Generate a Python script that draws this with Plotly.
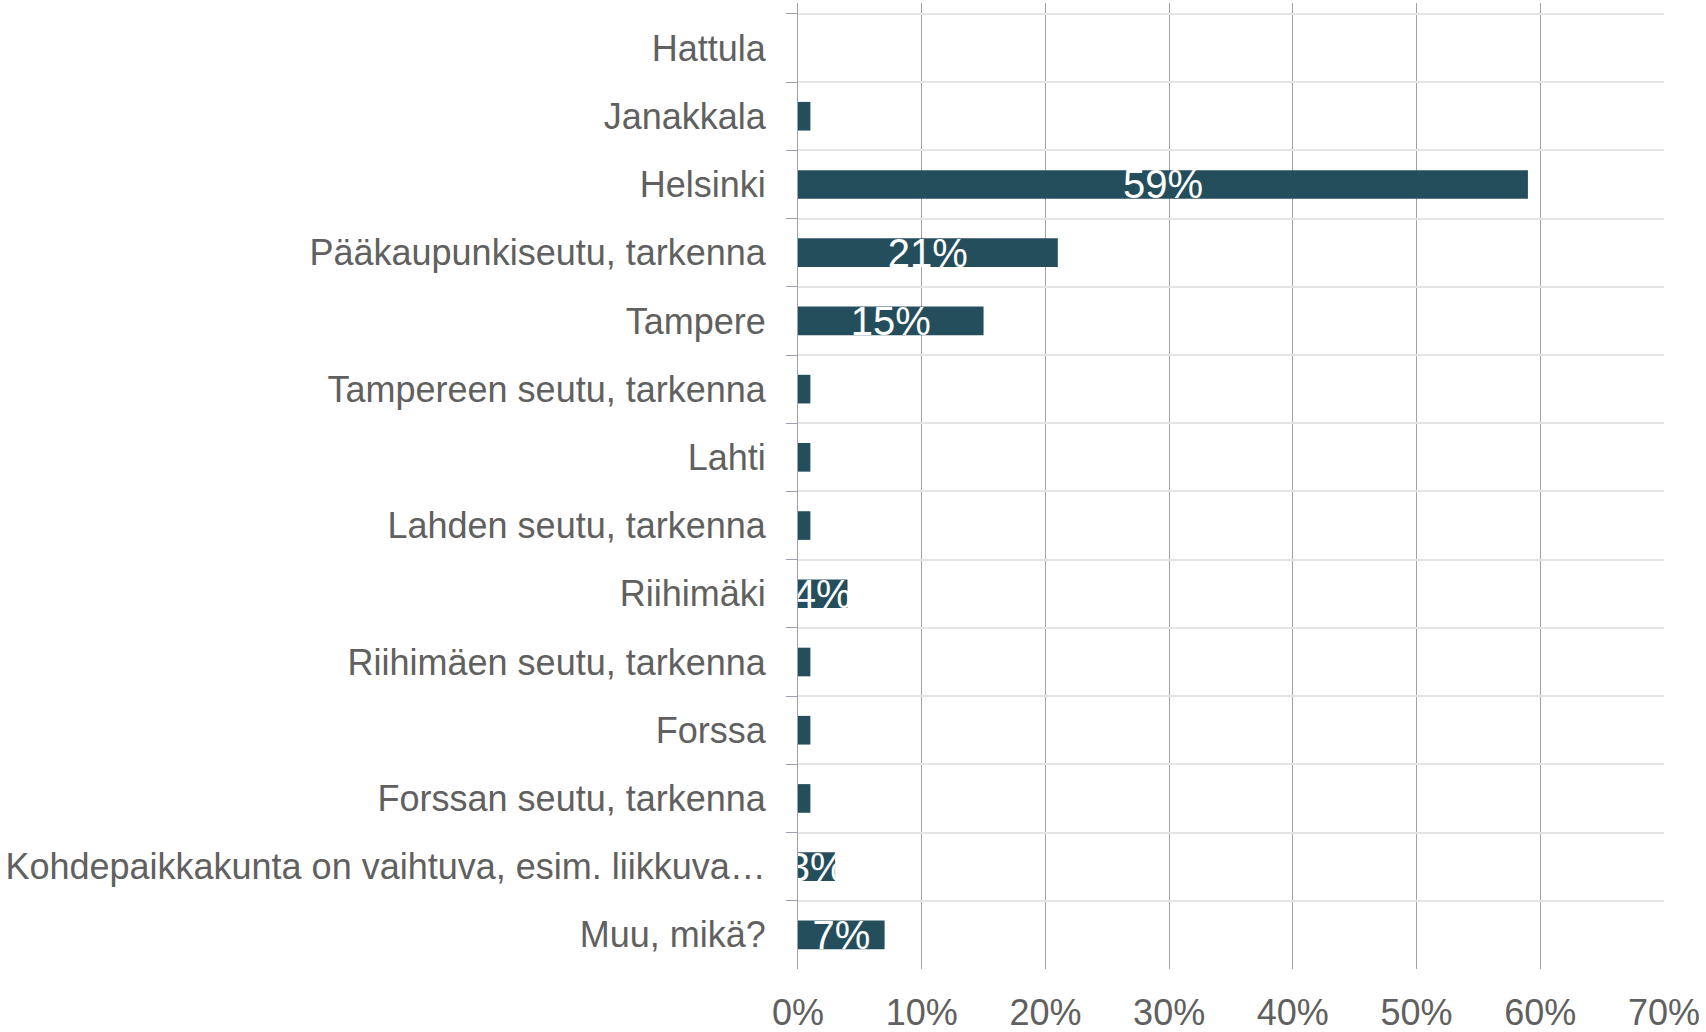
import plotly.graph_objects as go

categories = [
    "Hattula",
    "Janakkala",
    "Helsinki",
    "Pääkaupunkiseutu, tarkenna",
    "Tampere",
    "Tampereen seutu, tarkenna",
    "Lahti",
    "Lahden seutu, tarkenna",
    "Riihimäki",
    "Riihimäen seutu, tarkenna",
    "Forssa",
    "Forssan seutu, tarkenna",
    "Kohdepaikkakunta on vaihtuva, esim. liikkuva…",
    "Muu, mikä?",
]
values = [0, 1, 59, 21, 15, 1, 1, 1, 4, 1, 1, 1, 3, 7]
x_ticks = [0, 10, 20, 30, 40, 50, 60, 70]

bar_color = "#244e5c"
text_gray = "#606060"
grid_v = "#a0a0ae"
grid_h = "#e4e4e4"
font_family = "Arial, Liberation Sans, sans-serif"

# labels only on bars wide enough (as in the original)
labels = [f"{v}%" if v >= 3 else "" for v in values]

fig = go.Figure()
fig.add_trace(go.Bar(
    x=values,
    y=categories,
    orientation="h",
    width=0.42,
    marker=dict(color=bar_color, line=dict(width=0)),
    text=labels,
    textposition="inside",
    insidetextanchor="middle",
    constraintext="none",
    textangle=0,
    textfont=dict(color="white", size=40, family=font_family),
    hoverinfo="skip",
))

fig.update_layout(
    width=1706,
    height=1032,
    margin=dict(l=798, r=42, t=3, b=63, autoexpand=False),
    plot_bgcolor="white",
    paper_bgcolor="white",
    showlegend=False,
)

fig.update_xaxes(
    range=[0, 70],
    tickvals=x_ticks,
    ticktext=[f"{t}%" for t in x_ticks],
    showgrid=True,
    gridcolor=grid_v,
    gridwidth=1,
    zeroline=False,
    showline=False,
    ticks="",
    ticklabelstandoff=19,
    tickfont=dict(size=36, color=text_gray, family=font_family),
)

fig.update_yaxes(
    type="category",
    categoryorder="array",
    categoryarray=categories,
    range=[13.5, -0.66],
    tickson="boundaries",
    ticks="outside",
    ticklen=11,
    tickcolor=grid_v,
    tickwidth=1,
    showgrid=True,
    gridcolor=grid_h,
    gridwidth=2,
    showline=True,
    linecolor=grid_v,
    linewidth=1,
    ticklabelstandoff=24,
    tickfont=dict(size=36, color=text_gray, family=font_family),
)

fig.write_html(
    "out.html",
    config={"displayModeBar": False},
    post_script="document.body.style.margin='0';document.body.style.overflow='hidden';",
)
